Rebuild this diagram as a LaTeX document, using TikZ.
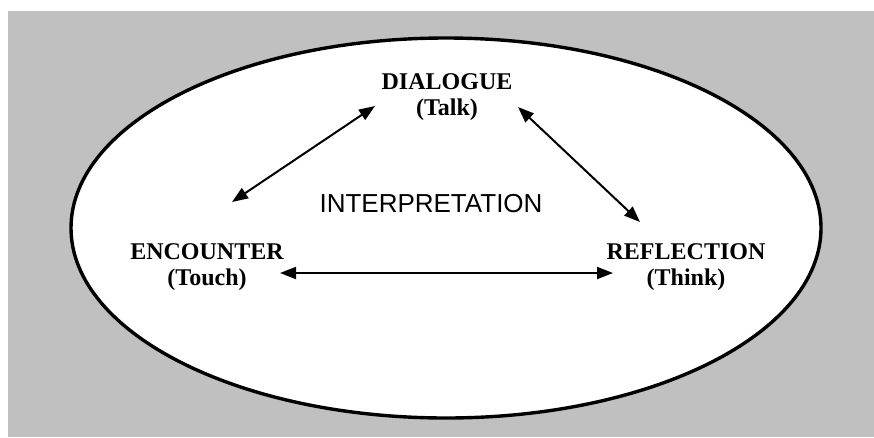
\documentclass[tikz,border=0pt]{standalone}
\usepackage{fontspec}
\setmainfont{Liberation Serif}
\setsansfont{Liberation Sans}
\usetikzlibrary{arrows.meta}
\definecolor{bggray}{HTML}{C0C0C0}
\tikzset{>={Triangle[length=16pt,width=12pt]}}
\begin{document}
\begin{tikzpicture}[x=1pt,y=-1pt,
    stage/.style={align=center,inner sep=0pt,font=\bfseries\fontsize{24}{26}\selectfont},
    link/.style={<->,line width=2pt}]
  \useasboundingbox (0,0) rectangle (874,437);
  \fill[bggray] (8,11) rectangle (874,437);
  \draw[line width=3.4pt,fill=white] (446,228) ellipse [x radius=375pt,y radius=190pt];
  \node[stage] (Dia) at (447,97) {DIALOGUE\\(Talk)};
  \node[stage] (Enc) at (207,267) {ENCOUNTER\\(Touch)};
  \node[stage] (Ref) at (686,267) {REFLECTION\\(Think)};
  \node[anchor=base,inner sep=0pt,font=\sffamily\fontsize{26}{30}\selectfont] (Int) at (431,212) {INTERPRETATION};
  \coordinate (DiaL) at (375,106);
  \coordinate (DiaR) at (518,107);
  \coordinate (EncU) at (232,202);
  \coordinate (EncR) at (280,273);
  \coordinate (RefU) at (640,222);
  \coordinate (RefL) at (613,273);
  \draw[link] (EncU) -- (DiaL);
  \draw[link] (DiaR) -- (RefU);
  \draw[link] (EncR) -- (RefL);
\end{tikzpicture}
\end{document}
